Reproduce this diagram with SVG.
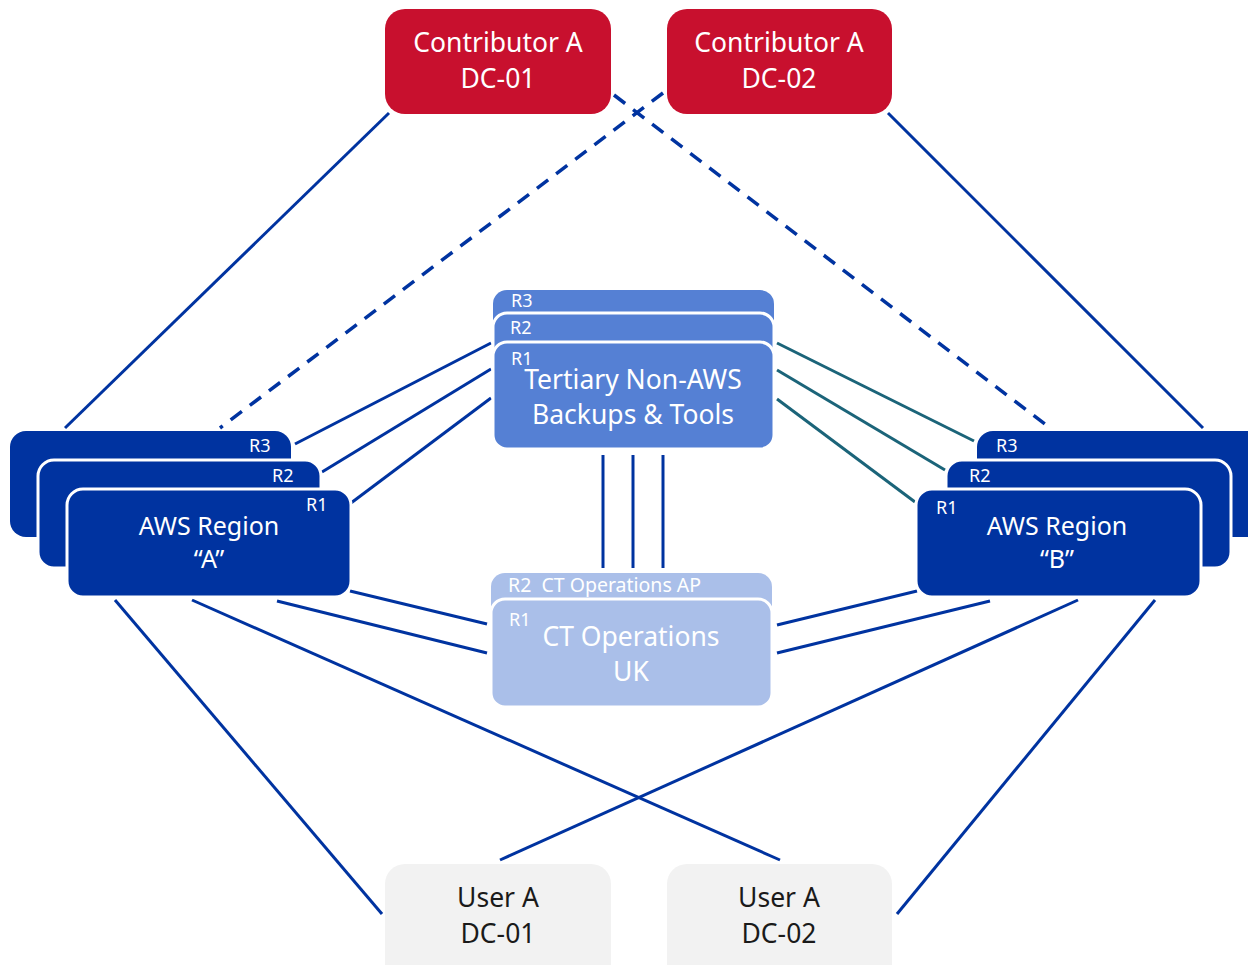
<svg xmlns="http://www.w3.org/2000/svg" width="1248" height="965" viewBox="0 0 1248 965">
<style>
.t{font-family:"Noto Sans","Liberation Sans",sans-serif;text-anchor:middle}
.big{font-size:26.5px}
.mid{font-size:25px}
.lbl{font-family:"Noto Sans","Liberation Sans",sans-serif;font-size:18px;fill:#fff}
.w{fill:#fff}
.d{fill:#1a1a1a}
.ln{stroke:#0033A0;stroke-width:3;fill:none}
.teal{stroke:#1B6479;stroke-width:3;fill:none}
.dash{stroke:#0033A0;stroke-width:3.5;fill:none;stroke-dasharray:14 10}
.red{fill:#C8102E}
.aws{fill:#0033A0;stroke:#fff;stroke-width:3}
.ter{fill:#5580D4;stroke:#fff;stroke-width:3}
.ct{fill:#AABFE9;stroke:#fff;stroke-width:3}
.usr{fill:#F2F2F2}
</style>
<g id="connectors">
<line class="ln" x1="389" y1="113" x2="65" y2="428"/>
<line class="ln" x1="888" y1="113" x2="1203" y2="428"/>
<line class="dash" x1="614" y1="95" x2="1050" y2="428"/>
<line class="dash" x1="663" y1="93" x2="220" y2="428"/>
<line class="ln" x1="295" y1="444" x2="491" y2="343"/>
<line class="ln" x1="322" y1="472" x2="491" y2="369"/>
<line class="ln" x1="351" y1="503" x2="491" y2="398"/>
<line class="teal" x1="777" y1="343" x2="974" y2="441"/>
<line class="teal" x1="777" y1="370" x2="945" y2="470"/>
<line class="teal" x1="777" y1="399" x2="915" y2="502"/>
<line class="ln" x1="603" y1="455" x2="603" y2="568"/>
<line class="ln" x1="633" y1="455" x2="633" y2="568"/>
<line class="ln" x1="663" y1="455" x2="663" y2="568"/>
<line class="ln" x1="350" y1="591" x2="487" y2="624"/>
<line class="ln" x1="277" y1="601" x2="487" y2="653"/>
<line class="ln" x1="777" y1="625" x2="917" y2="591"/>
<line class="ln" x1="777" y1="653" x2="990" y2="601"/>
<line class="ln" x1="115" y1="600" x2="382" y2="914"/>
<line class="ln" x1="192" y1="600" x2="780" y2="860"/>
<line class="ln" x1="1078" y1="600" x2="500" y2="860"/>
<line class="ln" x1="1155" y1="600" x2="897" y2="914"/>
</g>
<g id="contributor-dc01">
<rect class="red" x="385" y="9" width="226" height="105" rx="20"/>
<text class="t big w" x="498" y="52">Contributor A</text>
<text class="t big w" x="498" y="88">DC-01</text>
</g>
<g id="contributor-dc02">
<rect class="red" x="667" y="9" width="225" height="105" rx="20"/>
<text class="t big w" x="779" y="52">Contributor A</text>
<text class="t big w" x="779" y="88">DC-02</text>
</g>
<g id="aws-region-a">
<rect fill="#0033A0" x="10" y="431" width="281" height="106" rx="16"/>
<text class="lbl" x="249" y="452">R3</text>
<rect class="aws" x="38" y="460" width="283" height="108" rx="16"/>
<text class="lbl" x="272" y="482">R2</text>
<rect class="aws" x="67" y="489" width="284" height="108" rx="16"/>
<text class="lbl" x="306" y="511">R1</text>
<text class="t mid w" x="209" y="535">AWS Region</text>
<text class="t mid w" x="209" y="568">“A”</text>
</g>
<g id="aws-region-b">
<rect fill="#0033A0" x="977" y="431" width="290" height="106" rx="16"/>
<text class="lbl" x="996" y="452">R3</text>
<rect class="aws" x="946" y="460" width="285" height="108" rx="16"/>
<text class="lbl" x="969" y="482">R2</text>
<rect class="aws" x="916" y="489" width="285" height="108" rx="16"/>
<text class="lbl" x="936" y="514">R1</text>
<text class="t mid w" x="1057" y="535">AWS Region</text>
<text class="t mid w" x="1057" y="568">“B”</text>
</g>
<g id="tertiary">
<rect fill="#5580D4" x="493" y="290" width="281" height="80" rx="14"/>
<text class="lbl" x="511" y="307">R3</text>
<rect class="ter" x="493" y="313" width="281" height="80" rx="14"/>
<text class="lbl" x="510" y="334">R2</text>
<rect class="ter" x="493" y="342" width="281" height="107" rx="14"/>
<text class="lbl" x="511" y="365">R1</text>
<text class="t big w" x="633" y="389">Tertiary Non-AWS</text>
<text class="t big w" x="633" y="424">Backups &amp; Tools</text>
</g>
<g id="ct-operations">
<rect fill="#AABFE9" x="491" y="573" width="281" height="80" rx="14"/>
<text class="lbl" x="508" y="592" style="font-size:19.5px" xml:space="preserve">R2  CT Operations AP</text>
<rect class="ct" x="491" y="599" width="281" height="108" rx="14"/>
<text class="lbl" x="509" y="626">R1</text>
<text class="t big w" x="631" y="646">CT Operations</text>
<text class="t big w" x="631" y="681">UK</text>
</g>
<g id="user-dc01">
<rect class="usr" x="385" y="864" width="226" height="120" rx="20"/>
<text class="t big d" x="498" y="907">User A</text>
<text class="t big d" x="498" y="943">DC-01</text>
</g>
<g id="user-dc02">
<rect class="usr" x="667" y="864" width="225" height="120" rx="20"/>
<text class="t big d" x="779" y="907">User A</text>
<text class="t big d" x="779" y="943">DC-02</text>
</g>
</svg>
